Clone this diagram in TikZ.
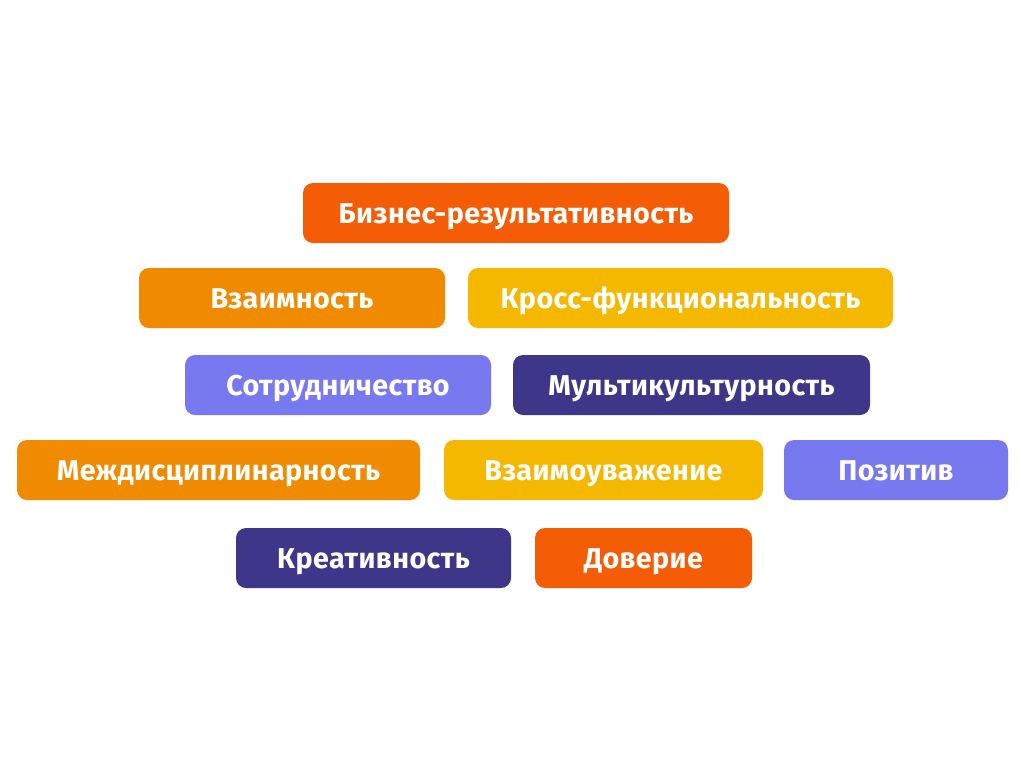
\documentclass[tikz,border=0pt]{standalone}
\usepackage{fontspec}
\setsansfont{Fira Sans}[LetterSpace=1.5]
\usepackage{tikz}
\usepackage{xcolor}

\definecolor{redorange}{HTML}{F45C05}
\definecolor{amber}{HTML}{F08A00}
\definecolor{sun}{HTML}{F5B800}
\definecolor{lilac}{HTML}{7879EE}
\definecolor{indigo}{HTML}{3E3689}

\tikzset{
  tag/.style={rectangle, rounded corners=7.5pt, minimum height=45pt,
    text=white, inner sep=0pt, text height=15pt, text depth=0pt,
    font=\sffamily\bfseries\fontsize{21.5}{25}\selectfont},
}

\begin{document}
\begin{tikzpicture}[x=0.75pt, y=-0.75pt]

  \useasboundingbox (0,0) rectangle (1024,768);

  % row 1
  \node[tag, fill=redorange, minimum width=319.5pt] (biz) at (516,213) {Бизнес-результативность};

  % row 2
  \node[tag, fill=amber, minimum width=229.5pt] (vzaim) at (292,298) {Взаимность};
  \node[tag, fill=sun, minimum width=318.75pt] (kross) at (680.5,298) {Кросс-функциональность};

  % row 3
  \node[tag, fill=lilac, minimum width=229.5pt] (sotr) at (338,385) {Сотрудничество};
  \node[tag, fill=indigo, minimum width=267.75pt] (multi) at (691.5,385) {Мультикультурность};

  % row 4
  \node[tag, fill=amber, minimum width=302.25pt] (mezh) at (218.5,470) {Междисциплинарность};
  \node[tag, fill=sun, minimum width=239.25pt] (uvazh) at (603.5,470) {Взаимоуважение};
  \node[tag, fill=lilac, minimum width=168pt] (pozit) at (896,470) {Позитив};

  % row 5
  \node[tag, fill=indigo, minimum width=206.25pt] (kreat) at (373.5,558) {Креативность};
  \node[tag, fill=redorange, minimum width=162.75pt] (dover) at (643.5,558) {Доверие};

\end{tikzpicture}
\end{document}
